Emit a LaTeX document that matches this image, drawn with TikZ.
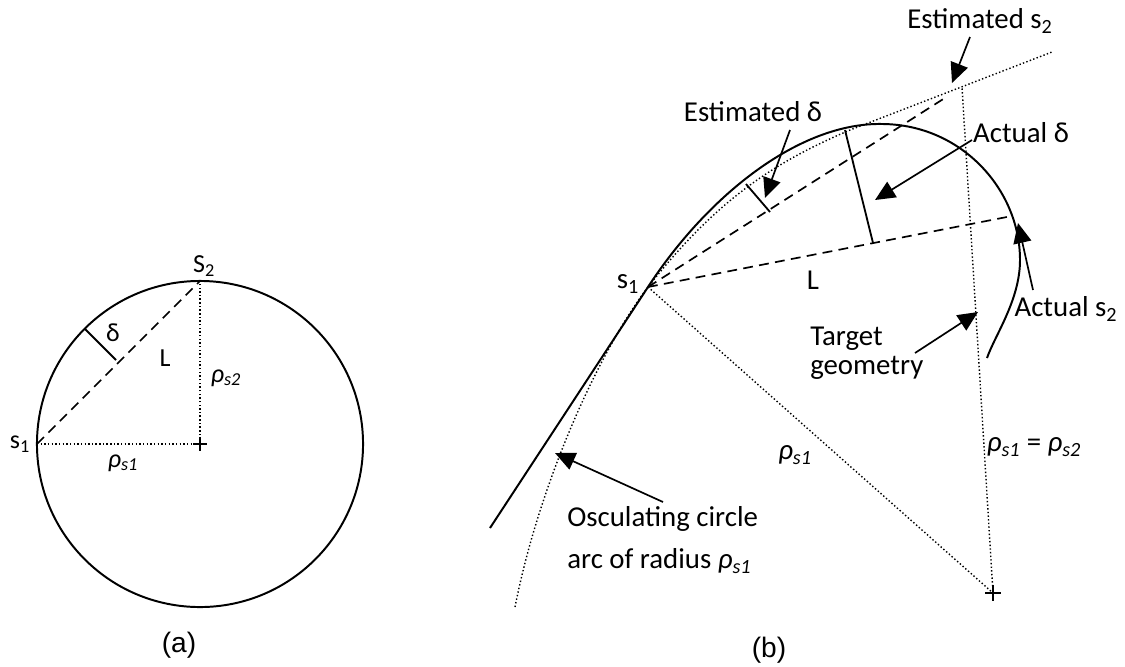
\documentclass[tikz,border=0pt]{standalone}
\usepackage{fontspec}
\setmainfont{Carlito}
\newfontfamily\captfont{Liberation Sans}
\usetikzlibrary{positioning, arrows.meta}
\newcommand{\rhosub}[1]{\textit{ρ\textsubscript{s#1}}}
\tikzset{
  geomline/.style  = {line width=1.4pt},
  chordline/.style = {line width=1.2pt, dash pattern=on 7pt off 4.5pt},
  radline/.style   = {line width=1pt, dash pattern=on 1pt off 1.6pt},
  ticksign/.style  = {line width=1.3pt},
  crossmark/.style = {line width=1.6pt},
  lbla/.style      = {font=\fontsize{18.5}{21}\selectfont, inner sep=0pt},
  lblb/.style      = {font=\fontsize{20.5}{21}\selectfont, inner sep=0pt,
                      align=left},
  captlbl/.style   = {font=\captfont\fontsize{20}{24}\selectfont, inner sep=0pt},
  callout/.style   = {line width=1.2pt, -{Triangle[length=5mm,width=4.5mm]}}
}
\begin{document}
\begin{tikzpicture}[x=0.025cm, y=-0.025cm]
  \useasboundingbox (0,0) rectangle (1125,666);

  % (a) circle
  \coordinate (ca)  at (200,444);
  \coordinate (as1) at (37,444);
  \coordinate (as2) at (200,281);
  \coordinate (adtop) at (85,329);
  \coordinate (adbot) at (116,360);
  \draw[geomline] (ca) circle [radius=4.075cm];
  \draw[chordline] (as1) -- (as2);
  \draw[radline] (as1) -- (ca) -- (as2);
  \draw[ticksign] (adtop) -- (adbot);
  \draw[crossmark] (ca) ++(-7,0) -- ++(14,0) (ca) ++(0,-7) -- ++(0,14);

  \node[lbla] (as2lbl) at (204,266) {S\textsubscript{2}};
  \node[lbla] (as1lbl) at (20,444)  {s\textsubscript{1}};
  \node[lbla] (adlbl)  at (113,333) {δ};
  \node[lbla] (allbl)  at (165,358) {L};
  \node[lbla] (ar2lbl) at (226,378) {\rhosub{2}};
  \node[lbla] (ar1lbl) at (123,463) {\rhosub{1}};
  \node[captlbl] (capa) at (179,645) {(a)};

  % (b) target geometry
  \coordinate (bs1)   at (648,287);
  \coordinate (cb)    at (993,593);
  \coordinate (es2)   at (962,87);
  \coordinate (es2c)  at (948,96);
  \coordinate (acs2)  at (1012,216);
  \draw[geomline] (490,528) -- (bs1)
        .. controls (708,195) and (800,122) .. (883,124)
        .. controls (962,125) and (1020,190) .. (1020,260)
        .. controls (1020,300) and (995,335) .. (987,358);
  \draw[radline] (515,607) .. controls (540,480) and (600,350) .. (bs1)
        .. controls (720,195) and (780,160) .. (850,130) -- (1052,52);
  \draw[radline] (bs1) -- (cb) -- (es2);
  \draw[chordline] (bs1) -- (es2c);
  \draw[chordline] (bs1) -- (acs2);
  \draw[ticksign] (746,184) -- (770,212);
  \draw[ticksign] (845,130) -- (873,243);
  \draw[crossmark] (cb) ++(-8,0) -- ++(16,0) (cb) ++(0,-8) -- ++(0,16);

  \node[lblb] (bs1lbl) at (628,284)  {s\textsubscript{1}};
  \node[lblb] (bllbl)  at (813,280)  {L};
  \node[lblb] (edlbl)  at (753,112)  {Estimated δ};
  \node[lblb] (eslbl)  at (980,21)   {Estimated s\textsubscript{2}};
  \node[lblb] (adblbl) at (1021,133) {Actual δ};
  \node[lblb] (aslbl)  at (1066,309) {Actual s\textsubscript{2}};
  \node[lblb, anchor=west] (tglbl) at (810,353) {Target\\geometry};
  \node[lblb, anchor=west, font=\fontsize{20.5}{30}\selectfont] (oclbl) at (567,540)
        {Osculating circle\\arc of radius \rhosub{1}};
  \node[lblb] (br1lbl) at (795,455)  {\rhosub{1}};
  \node[lblb] (brelbl) at (1034,447) {\rhosub{1} = \rhosub{2}};
  \node[captlbl] (capb) at (769,650) {(b)};

  % callouts
  \coordinate (edtail) at (790,130);  \coordinate (edtip) at (765,198);
  \coordinate (estail) at (970,37);   \coordinate (estip) at (952,83);
  \coordinate (adtail) at (972,140);  \coordinate (adtip) at (875,200);
  \coordinate (astail) at (1033,290); \coordinate (astip) at (1018,223);
  \coordinate (tgtail) at (915,353);  \coordinate (tgtip) at (978,312);
  \coordinate (octail) at (663,502);  \coordinate (octip) at (555,453);
  \draw[callout] (edtail) -- (edtip);
  \draw[callout] (estail) -- (estip);
  \draw[callout] (adtail) -- (adtip);
  \draw[callout] (astail) -- (astip);
  \draw[callout] (tgtail) -- (tgtip);
  \draw[callout] (octail) -- (octip);
\end{tikzpicture}
\end{document}
